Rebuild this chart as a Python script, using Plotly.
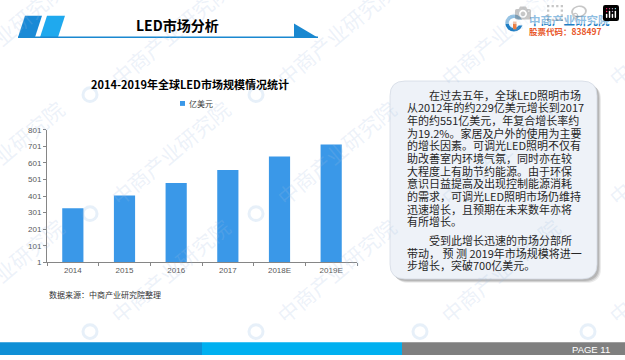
import plotly.graph_objects as go

W, H = 625, 360

# ---- data ----
categories = ["2014", "2015", "2016", "2017", "2018E", "2019E"]
values = [328, 404, 480, 558, 640, 712]
series_name = "亿美元"
y_tickvals = [1, 101, 201, 301, 401, 501, 601, 701, 801]
y_ticktext = [str(v) for v in y_tickvals]

chart_title = "2014-2019年全球LED市场规模情况统计"
header_title = "LED市场分析"
source_text = "数据来源：中商产业研究院整理"
logo_name = "中商产业研究院"
logo_code = "股票代码：838497"
page_text = "PAGE 11"
para_lines = [
    "　　在过去五年，全球LED照明市场",
    "从2012年的约229亿美元增长到2017",
    "年的约551亿美元，年复合增长率约",
    "为19.2%。家居及户外的使用为主要",
    "的增长因素。可调光LED照明不仅有",
    "助改善室内环境气氛，同时亦在较",
    "大程度上有助节约能源。由于环保",
    "意识日益提高及出现控制能源消耗",
    "的需求，可调光LED照明市场仍维持",
    "迅速增长，且预期在未来数年亦将",
    "有所增长。",
]
para2_lines = [
    "　　受到此增长迅速的市场分部所",
    "带动， 预 测 2019年市场规模将进一",
    "步增长，突破700亿美元。",
]

BAR = "#3a98e8"
CJK = "Noto Sans CJK SC"
TXT = "Liberation Sans Narrow, Noto Sans CJK SC"


def px(x):
    return x / W


def py(y):
    return 1 - y / H


def poly(points):
    return "M " + " L ".join(f"{px(x):.5f},{py(y):.5f}" for x, y in points) + " Z"


def rrect(x0, y0, x1, y1, r):
    pts = [
        f"M {px(x0 + r):.5f},{py(y0):.5f}",
        f"L {px(x1 - r):.5f},{py(y0):.5f}",
        f"Q {px(x1):.5f},{py(y0):.5f} {px(x1):.5f},{py(y0 + r):.5f}",
        f"L {px(x1):.5f},{py(y1 - r):.5f}",
        f"Q {px(x1):.5f},{py(y1):.5f} {px(x1 - r):.5f},{py(y1):.5f}",
        f"L {px(x0 + r):.5f},{py(y1):.5f}",
        f"Q {px(x0):.5f},{py(y1):.5f} {px(x0):.5f},{py(y1 - r):.5f}",
        f"L {px(x0):.5f},{py(y0 + r):.5f}",
        f"Q {px(x0):.5f},{py(y0):.5f} {px(x0 + r):.5f},{py(y0):.5f}",
        "Z",
    ]
    return " ".join(pts)


def note(x, y, text, size, color, family=CJK, xanchor="left", **kw):
    return dict(x=px(x), y=py(y), xref="paper", yref="paper", text=text,
                showarrow=False, xanchor=xanchor, yanchor="middle",
                font=dict(family=family, size=size, color=color), **kw)


fig = go.Figure()
fig.add_trace(go.Bar(x=categories, y=values, name=series_name,
                     marker=dict(color=BAR, line=dict(width=0)),
                     showlegend=False))

shapes = []
annotations = []

# watermark
wm_x = [-76, 90, 256, 420, 588]
wm_y = [93, 215, 336]
for X in wm_x:
    for Y in wm_y:
        annotations.append(note(X + 80, Y - 62, "中商产业研究院", 21,
                                "rgba(160,190,225,0.20)", xanchor="center",
                                textangle=-40))
        shapes.append(dict(type="circle", xref="paper", yref="paper",
                           x0=px(X - 7), x1=px(X + 7), y0=py(Y + 7), y1=py(Y - 7),
                           line=dict(color="rgba(120,170,220,0.18)", width=3)))

# header
shapes.append(dict(type="path", xref="paper", yref="paper",
                   path=poly([(18, 34), (35, 34), (42, 12), (25, 12)]),
                   fillcolor="#1a8ad6", line=dict(width=0)))
shapes.append(dict(type="path", xref="paper", yref="paper",
                   path=poly([(40, 34), (58, 34), (65, 12), (47, 12)]),
                   fillcolor="#1fa9ee", line=dict(width=0)))
shapes.append(dict(type="line", xref="paper", yref="paper",
                   x0=px(18), x1=px(318), y0=py(34), y1=py(34),
                   line=dict(color="#1a88d0", width=1.5)))
shapes.append(dict(type="path", xref="paper", yref="paper",
                   path=poly([(294, 20), (294, 34.5), (318, 34.5)]),
                   fillcolor="#1a88d0", line=dict(width=0)))
annotations.append(note(177, 22, f"<b>{header_title}</b>", 14, "#000000", xanchor="center"))

# logo
shapes.append(dict(type="circle", xref="paper", yref="paper",
                   x0=px(507), x1=px(521), y0=py(26.5), y1=py(12.5),
                   line=dict(color="#1f7ec4", width=3.5)))
shapes.append(dict(type="rect", xref="paper", yref="paper",
                   x0=px(516), x1=px(524), y0=py(22), y1=py(16),
                   fillcolor="white", line=dict(width=0)))
shapes.append(dict(type="rect", xref="paper", yref="paper",
                   x0=px(513), x1=px(516.5), y0=py(26), y1=py(18),
                   fillcolor="#ef7d3c", line=dict(width=0)))
annotations.append(note(527, 16, f"<b>{logo_name}</b>", 11.5, "#1f7ec4"))
annotations.append(note(527, 27.5, f"<b>{logo_code}</b>", 8.5, "#e8572a"))

# chart title and legend
annotations.append(note(190, 82, f"<b>{chart_title}</b>", 11, "#000000", xanchor="center"))
shapes.append(dict(type="rect", xref="paper", yref="paper",
                   x0=px(180), x1=px(185), y0=py(104.5), y1=py(99.5),
                   fillcolor=BAR, line=dict(width=0)))
annotations.append(note(187, 102, series_name, 8, "#404040"))
annotations.append(note(47, 298, source_text, 8, "#333333"))

# text box
for off, a in [(4, 0.10), (3, 0.14), (2, 0.18)]:
    shapes.append(dict(type="path", xref="paper", yref="paper",
                       path=rrect(390 + off, 79 + off, 597 + off, 282 + off, 15),
                       fillcolor=f"rgba(60,60,60,{a})", line=dict(width=0)))
shapes.append(dict(type="path", xref="paper", yref="paper",
                   path=rrect(390, 79, 597, 282, 15),
                   fillcolor="#eef2f8", line=dict(color="#d4dae4", width=0.8)))
for i, line in enumerate(para_lines):
    annotations.append(note(405, 93 + 13 * i, line, 11, "#262626", family=TXT))
for i, line in enumerate(para2_lines):
    annotations.append(note(405, 242 + 13 * i, line, 11, "#262626", family=TXT))

# bottom bar
for x0, x1, c in [(0, 202, "#0f8fd6"), (202, 402, "#00b0f0"), (402, 625, "#7f7f7f")]:
    shapes.append(dict(type="rect", xref="paper", yref="paper",
                       x0=px(x0), x1=px(x1), y0=py(360), y1=py(347),
                       fillcolor=c, line=dict(width=0)))
annotations.append(note(612, 354, page_text, 9.5, "white",
                        family="Liberation Sans", xanchor="right"))

fig.update_layout(
    width=W, height=H,
    margin=dict(l=0, r=0, t=0, b=0),
    paper_bgcolor="white", plot_bgcolor="rgba(0,0,0,0)",
    bargap=0.59,
    shapes=shapes, annotations=annotations,
    xaxis=dict(domain=[px(47), px(357)], range=[-0.5, 5.5], type="category",
               showline=True, linecolor="#868686", linewidth=1,
               ticks="outside", tickson="boundaries", ticklen=3, tickcolor="#868686",
               tickfont=dict(family="Liberation Sans", size=8, color="#595959"),
               showgrid=False, zeroline=False, fixedrange=True),
    yaxis=dict(domain=[py(265), py(129)], range=[1, 801],
               tickvals=y_tickvals, ticktext=y_ticktext,
               showline=True, linecolor="#868686", linewidth=1,
               ticks="outside", ticklen=3, tickcolor="#868686",
               tickfont=dict(family="Liberation Sans", size=8, color="#595959"),
               showgrid=False, zeroline=False, fixedrange=True),
)

fig.write_html("out.html",
               post_script="document.body.style.margin='0';"
                           "document.body.style.overflow='hidden';")
